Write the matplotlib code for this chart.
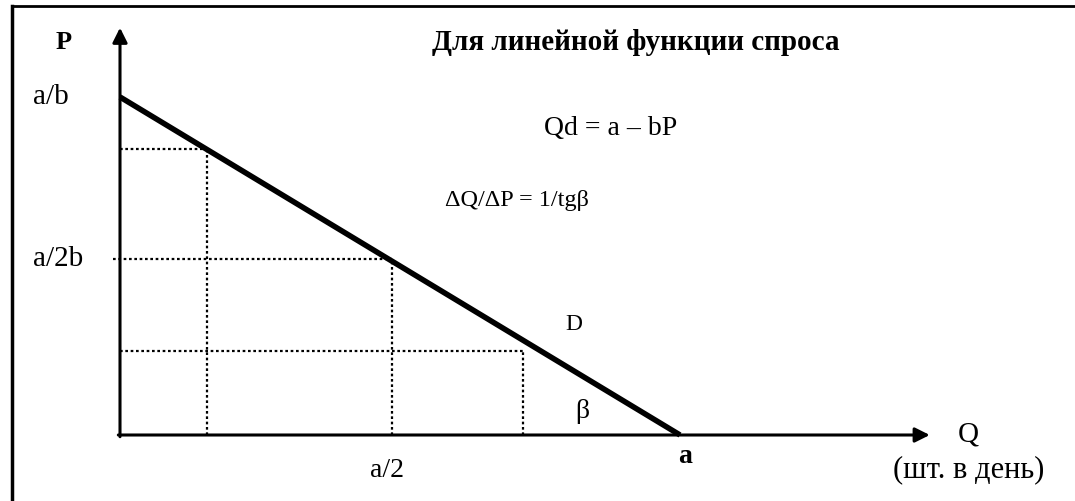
import matplotlib
matplotlib.use("Agg")
import matplotlib.pyplot as plt
from matplotlib.lines import Line2D

plt.rcParams['font.family'] = ['Liberation Serif', 'DejaVu Serif']

# demand line Qd = a - bP, a = 1 and a/b = 1
demand_q = [0.0, 1.0]
demand_p = [1.0, 0.0]

# dotted guide points on the line
guide_q = [0.155, 0.485, 0.72]
guide_p = [0.845, 0.52, 0.25]

y_tick_vals = [1.0, 0.52]
y_tick_labels = ['a/b', 'a/2b']
x_tick_vals = [0.477, 1.009]
x_tick_labels = ['a/2', 'a']

W, H = 1075, 501
fig = plt.figure(figsize=(W / 100, H / 100), dpi=100)
ax = fig.add_axes([0, 0, 1, 1])
# origin at pixel (120, 435), a -> 560 px, a/b -> 338 px
ax.set_xlim(-120 / 560, (W - 120) / 560)
ax.set_ylim((435 - H) / 338, 435 / 338)
ax.axis('off')

# frame around the picture
fig.add_artist(Line2D([12 / W, 12 / W], [0, 1 - 6 / H], color='black', lw=2.5))
fig.add_artist(Line2D([12 / W, 1], [1 - 6 / H, 1 - 6 / H], color='black', lw=2.0))

# axes with arrows
ax.annotate('', xy=(0, 1.205), xytext=(0, -0.005),
            arrowprops=dict(arrowstyle='-|>', lw=2.2, color='black',
                            mutation_scale=22, shrinkA=0, shrinkB=0))
ax.annotate('', xy=(1.446, 0), xytext=(-0.003, 0),
            arrowprops=dict(arrowstyle='-|>', lw=2.2, color='black',
                            mutation_scale=22, shrinkA=0, shrinkB=0))

# dotted guides
for i, (q, p) in enumerate(zip(guide_q, guide_p)):
    x0 = -0.0125 if i == 1 else 0
    ax.plot([x0, q], [p, p], color='black', ls=(0, (1.2, 1.2)), lw=1.6)
    ax.plot([q, q], [0, p], color='black', ls=(0, (1.2, 1.2)), lw=1.6)

# demand line
ax.plot(demand_q, demand_p, color='black', lw=4, solid_capstyle='butt')

# tick labels
for v, lab in zip(y_tick_vals, y_tick_labels):
    ax.text(-0.155, v, lab, fontsize=21, ha='left', va='center')
for v, lab in zip(x_tick_vals, x_tick_labels):
    bold = lab == 'a'
    ax.text(v, -0.065 if bold else -0.104, lab, fontsize=20,
            ha='center', va='center', fontweight='bold' if bold else 'normal')

ax.text(-0.1, 1.16, 'P', fontsize=19, fontweight='bold', ha='center', va='center')
ax.text(1.514, 0.0, 'Q', fontsize=21, ha='center', va='center')
ax.text(1.515, -0.104, '(шт. в день)', fontsize=22, ha='center', va='center')

ax.text(0.557, 1.16, 'Для линейной функции спроса', fontsize=21,
        fontweight='bold', ha='left', va='center')
ax.text(0.877, 0.908, 'Qd = a – bP', fontsize=20, ha='center', va='center')
ax.text(0.58, 0.695, 'ΔQ/ΔP = 1/tgβ', fontsize=17.5, ha='left', va='center')
ax.text(0.811, 0.328, 'D', fontsize=17, ha='center', va='center')
ax.text(0.825, 0.071, 'β', fontsize=20, ha='center', va='center')

fig.savefig('out.png', dpi=100)
